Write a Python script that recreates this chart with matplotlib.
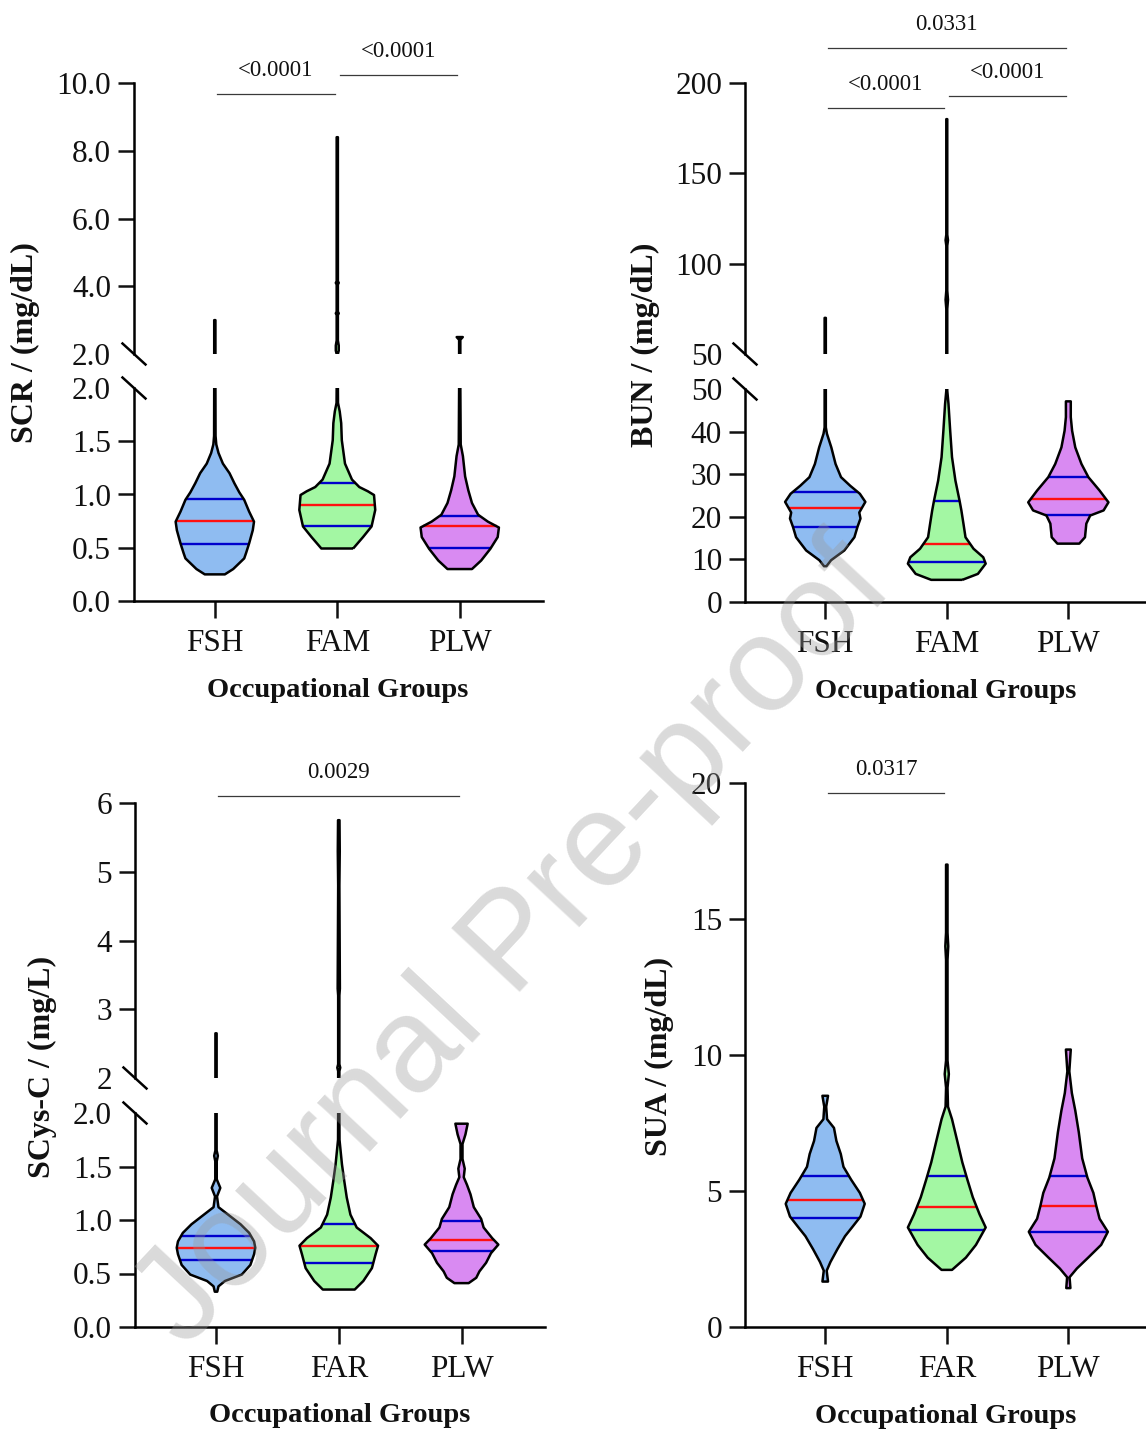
import numpy as np
import matplotlib
matplotlib.use("Agg")
import matplotlib.pyplot as plt

plt.rcParams["font.family"] = ["Liberation Serif", "DejaVu Serif"]

# ---------------- data ----------------
groups_top = ["FSH", "FAM", "PLW"]
groups_bottom = ["FSH", "FAR", "PLW"]
fill_colors = ["#8FBCF1", "#A3F7A3", "#D98AF2"]

# SCR (mg/dL): violin profiles (value, half-width in category units)
scr_fsh_y = [0.25, 0.30, 0.40, 0.45, 0.54, 0.665, 0.745, 0.84, 0.95, 1.02, 1.105, 1.20, 1.29, 1.39, 1.47, 1.55, 2.0, 3.0]
scr_fsh_w = [0.082, 0.15, 0.24, 0.255, 0.28, 0.31, 0.32, 0.28, 0.24, 0.20, 0.16, 0.12, 0.066, 0.03, 0.012, 0.006, 0.005, 0.005]
scr_fam_y = [0.493, 0.60, 0.70, 0.855, 0.995, 1.03, 1.07, 1.14, 1.29, 1.51, 1.67, 1.78, 1.86, 2.0, 2.1, 2.25, 2.4, 3.15, 3.2, 3.25, 4.05, 4.1, 4.15, 8.4]
scr_fam_w = [0.13, 0.21, 0.28, 0.31, 0.30, 0.25, 0.18, 0.12, 0.063, 0.037, 0.032, 0.02, 0.006, 0.005, 0.012, 0.012, 0.005, 0.005, 0.012, 0.005, 0.005, 0.012, 0.005, 0.005]
scr_plw_y = [0.30, 0.38, 0.49, 0.60, 0.69, 0.745, 0.81, 0.92, 1.04, 1.17, 1.36, 1.47, 2.0, 2.42, 2.5]
scr_plw_w = [0.10, 0.175, 0.25, 0.31, 0.32, 0.23, 0.15, 0.10, 0.07, 0.044, 0.026, 0.008, 0.005, 0.005, 0.025]
scr_q1 = [0.535, 0.70, 0.50]
scr_med = [0.75, 0.90, 0.70]
scr_q3 = [0.955, 1.105, 0.80]

# BUN (mg/dL)
bun_fsh_y = [8.4, 9.8, 12.1, 15.2, 17.6, 19.6, 21.0, 23.5, 25.4, 27.3, 29.3, 32.4, 36.3, 39.5, 41.0, 50.0, 70.0]
bun_fsh_w = [0.01, 0.048, 0.157, 0.24, 0.265, 0.29, 0.28, 0.33, 0.285, 0.205, 0.13, 0.085, 0.05, 0.014, 0.005, 0.005, 0.005]
bun_fam_y = [5.2, 6.6, 9.0, 10.5, 12.5, 15.2, 18.4, 21.5, 23.8, 28.5, 34.0, 40.2, 46.5, 49.6, 75.0, 80.0, 85.0, 110.0, 113.0, 116.0, 180.0]
bun_fam_w = [0.128, 0.256, 0.32, 0.30, 0.22, 0.154, 0.137, 0.12, 0.105, 0.071, 0.043, 0.028, 0.014, 0.004, 0.004, 0.01, 0.004, 0.004, 0.01, 0.004, 0.004]
bun_plw_y = [13.7, 15.2, 18.4, 20.3, 21.5, 23.4, 26.2, 29.3, 32.4, 36.3, 40.2, 43.4, 47.1]
bun_plw_w = [0.09, 0.137, 0.148, 0.18, 0.29, 0.33, 0.256, 0.165, 0.108, 0.057, 0.031, 0.02, 0.02]
bun_q1 = [17.6, 9.3, 20.4]
bun_med = [22.0, 13.6, 24.2]
bun_q3 = [25.9, 23.8, 29.3]

# SCys-C (mg/L)
scys_fsh_y = [0.33, 0.38, 0.43, 0.49, 0.58, 0.68, 0.74, 0.80, 0.88, 0.96, 1.04, 1.12, 1.22, 1.30, 1.38, 1.55, 1.60, 1.65, 2.0, 2.65]
scys_fsh_w = [0.01, 0.02, 0.073, 0.21, 0.28, 0.31, 0.32, 0.31, 0.27, 0.20, 0.11, 0.02, 0.008, 0.035, 0.006, 0.006, 0.015, 0.005, 0.005, 0.005]
scys_far_y = [0.35, 0.43, 0.55, 0.68, 0.76, 0.83, 0.93, 1.05, 1.21, 1.37, 1.52, 1.68, 1.75, 2.0, 2.1, 2.15, 2.2, 3.2, 3.3, 4.8, 5.3, 5.75]
scys_far_w = [0.13, 0.20, 0.27, 0.30, 0.32, 0.26, 0.146, 0.095, 0.065, 0.044, 0.026, 0.012, 0.006, 0.005, 0.005, 0.012, 0.005, 0.005, 0.009, 0.005, 0.008, 0.006]
scys_plw_y = [0.41, 0.46, 0.52, 0.60, 0.69, 0.77, 0.83, 0.93, 1.01, 1.12, 1.24, 1.33, 1.40, 1.48, 1.57, 1.71, 1.80, 1.90]
scys_plw_w = [0.058, 0.12, 0.146, 0.20, 0.24, 0.30, 0.25, 0.18, 0.16, 0.10, 0.073, 0.044, 0.018, 0.026, 0.008, 0.008, 0.032, 0.05]
scys_q1 = [0.63, 0.60, 0.71]
scys_med = [0.74, 0.76, 0.81]
scys_q3 = [0.85, 0.96, 0.99]

# SUA (mg/dL)
sua_fsh_y = [1.67, 2.07, 2.39, 2.86, 3.34, 3.66, 4.06, 4.53, 4.93, 5.41, 5.89, 6.36, 6.84, 7.32, 7.64, 8.1, 8.5]
sua_fsh_w = [0.023, 0.012, 0.043, 0.10, 0.163, 0.22, 0.29, 0.325, 0.285, 0.214, 0.15, 0.128, 0.092, 0.072, 0.015, 0.008, 0.023]
sua_far_y = [2.1, 2.55, 3.02, 3.66, 4.14, 4.77, 5.41, 6.05, 6.84, 7.64, 8.1, 8.8, 9.3, 9.8, 13.5, 14.0, 14.5, 17.0]
sua_far_w = [0.043, 0.157, 0.24, 0.32, 0.27, 0.214, 0.17, 0.128, 0.086, 0.043, 0.01, 0.006, 0.017, 0.006, 0.006, 0.012, 0.006, 0.006]
sua_plw_y = [1.43, 1.83, 2.15, 2.55, 3.02, 3.5, 3.98, 4.45, 4.93, 5.49, 6.2, 7.16, 7.96, 8.6, 9.4, 10.2]
sua_plw_w = [0.017, 0.01, 0.07, 0.163, 0.27, 0.325, 0.257, 0.23, 0.206, 0.157, 0.114, 0.086, 0.057, 0.029, 0.008, 0.02]
sua_q1 = [4.0, 3.57, 3.49]
sua_med = [4.67, 4.41, 4.45]
sua_q3 = [5.55, 5.55, 5.55]

# significance annotations: (group i, group j, bracket value, label)
scr_sig = [(0, 1, 9.68, "<0.0001"), (1, 2, 10.24, "<0.0001")]
bun_sig = [(0, 1, 186.2, "<0.0001"), (1, 2, 192.8, "<0.0001"), (0, 2, 219.4, "0.0331")]
scys_sig = [(0, 2, 6.10, "0.0029")]
sua_sig = [(0, 1, 19.63, "0.0317")]

# ---------------- figure ----------------
W, H = 1146, 1432
fig = plt.figure(figsize=(W / 100, H / 100), dpi=100)


def rect(l, t, r, b):
    return [l / W, 1 - b / H, (r - l) / W, (b - t) / H]


XLIM = (-0.66, 2.68)
TICK_FS = 22.5


def style(ax, bottom):
    for s in ("top", "right"):
        ax.spines[s].set_visible(False)
    ax.spines["left"].set_linewidth(1.8)
    ax.tick_params(axis="y", length=11.5, width=1.8, labelsize=TICK_FS, pad=5, colors="#111111")
    if bottom:
        ax.spines["bottom"].set_linewidth(1.8)
        ax.tick_params(axis="x", length=12, width=1.8, labelsize=TICK_FS, pad=8, colors="#111111")
    else:
        ax.spines["bottom"].set_visible(False)
        ax.tick_params(axis="x", bottom=False, labelbottom=False)
    ax.set_xlim(*XLIM)
    ax.patch.set_visible(False)


def violin(ax, x, y, w, color, q1, med, q3):
    y = np.asarray(y, float)
    w = np.asarray(w, float)
    ax.fill_betweenx(y, x - w, x + w, facecolor=color, edgecolor="none", zorder=2)
    for q, c in ((q1, "#0000CC"), (med, "#FF1010"), (q3, "#0000CC")):
        hw = np.interp(q, y, w)
        ax.plot([x - hw, x + hw], [q, q], color=c, lw=1.7, zorder=3, solid_capstyle="butt")
    ax.fill_betweenx(y, x - w, x + w, facecolor="none", edgecolor="black", linewidth=1.8,
                     joinstyle="round", zorder=4)


def break_mark(ax, at_top, wpx, hpx):
    dx = 11.5 / wpx
    dy = 10.5 / hpx
    yc = 1.0 if at_top else 0.0
    ax.plot([-dx, dx], [yc + dy, yc - dy], transform=ax.transAxes, color="black",
            lw=1.8, clip_on=False, zorder=5)


def sig(ax, items):
    for i, j, v, lab in items:
        ax.plot([i + 0.02, j - 0.02], [v, v], color="#3A3A3A", lw=0.9, clip_on=False)
        ax.annotate(lab, xy=((i + j) / 2, v), xytext=(0, 13), textcoords="offset points",
                    ha="center", va="baseline", fontsize=16.5, color="#111111",
                    annotation_clip=False)


def hide_tick(ax, value):
    for t, loc in zip(ax.yaxis.get_major_ticks(), ax.get_yticks()):
        if abs(loc - value) < 1e-9:
            t.tick1line.set_visible(False)


def broken_panel(l, r, t_top, b_top, t_bot, b_bot, lo_lim, hi_lim, lo_ticks, lo_labels,
                 hi_ticks, hi_labels, groups, profiles, q1, med, q3, sig_items):
    ax_hi = fig.add_axes(rect(l, t_top, r, b_top))
    ax_lo = fig.add_axes(rect(l, t_bot, r, b_bot))
    style(ax_hi, False)
    style(ax_lo, True)
    for ax in (ax_hi, ax_lo):
        for k, (yy, ww) in enumerate(profiles):
            violin(ax, k, yy, ww, fill_colors[k], q1[k], med[k], q3[k])
    ax_hi.set_ylim(*hi_lim)
    ax_lo.set_ylim(*lo_lim)
    ax_hi.set_yticks(hi_ticks)
    ax_hi.set_yticklabels(hi_labels)
    ax_lo.set_yticks(lo_ticks)
    ax_lo.set_yticklabels(lo_labels)
    ax_lo.set_xticks(range(len(groups)))
    ax_lo.set_xticklabels(groups)
    hide_tick(ax_hi, hi_lim[0])
    hide_tick(ax_lo, lo_lim[1])
    break_mark(ax_hi, False, r - l, b_top - t_top)
    break_mark(ax_lo, True, r - l, b_bot - t_bot)
    sig(ax_hi, sig_items)
    return ax_hi, ax_lo


# Panel A: SCR
broken_panel(134, 543, 83, 354, 388, 601, (0, 2.0), (2.0, 10.0),
             [0, 0.5, 1.0, 1.5, 2.0], ["0.0", "0.5", "1.0", "1.5", "2.0"],
             [2, 4, 6, 8, 10], ["2.0", "4.0", "6.0", "8.0", "10.0"],
             groups_top,
             [(scr_fsh_y, scr_fsh_w), (scr_fam_y, scr_fam_w), (scr_plw_y, scr_plw_w)],
             scr_q1, scr_med, scr_q3, scr_sig)

# Panel B: BUN
broken_panel(745, 1151, 83, 354, 389, 602, (0, 50), (50, 200),
             [0, 10, 20, 30, 40, 50], ["0", "10", "20", "30", "40", "50"],
             [50, 100, 150, 200], ["50", "100", "150", "200"],
             groups_top,
             [(bun_fsh_y, bun_fsh_w), (bun_fam_y, bun_fam_w), (bun_plw_y, bun_plw_w)],
             bun_q1, bun_med, bun_q3, bun_sig)

# Panel C: SCys-C
broken_panel(135, 545, 803, 1078, 1113, 1327, (0, 2.0), (2, 6),
             [0, 0.5, 1.0, 1.5, 2.0], ["0.0", "0.5", "1.0", "1.5", "2.0"],
             [2, 3, 4, 5, 6], ["2", "3", "4", "5", "6"],
             groups_bottom,
             [(scys_fsh_y, scys_fsh_w), (scys_far_y, scys_far_w), (scys_plw_y, scys_plw_w)],
             scys_q1, scys_med, scys_q3, scys_sig)

# Panel D: SUA (no break)
axD = fig.add_axes(rect(745, 783, 1151, 1327))
style(axD, True)
for k, (yy, ww) in enumerate([(sua_fsh_y, sua_fsh_w), (sua_far_y, sua_far_w), (sua_plw_y, sua_plw_w)]):
    violin(axD, k, yy, ww, fill_colors[k], sua_q1[k], sua_med[k], sua_q3[k])
axD.set_ylim(0, 20)
axD.set_yticks([0, 5, 10, 15, 20])
axD.set_yticklabels(["0", "5", "10", "15", "20"])
axD.set_xticks(range(3))
axD.set_xticklabels(groups_bottom)
sig(axD, sua_sig)

# axis titles
ylab_kw = dict(rotation=90, ha="center", va="center", fontsize=23, fontweight="bold", color="#111111")
xlab_kw = dict(ha="center", va="baseline", fontsize=20.5, fontweight="bold", color="#111111")
fig.text(25 / W, 1 - 343 / H, "SCR / (mg/dL)", **ylab_kw)
fig.text(645 / W, 1 - 345 / H, "BUN / (mg/dL)", **ylab_kw)
fig.text(42 / W, 1 - 1067 / H, "SCys-C / (mg/L)", **ylab_kw)
fig.text(659 / W, 1 - 1056 / H, "SUA / (mg/dL)", **ylab_kw)
fig.text(338 / W, 1 - 697 / H, "Occupational Groups", **xlab_kw)
fig.text(946 / W, 1 - 698 / H, "Occupational Groups", **xlab_kw)
fig.text(340 / W, 1 - 1422 / H, "Occupational Groups", **xlab_kw)
fig.text(946 / W, 1 - 1423 / H, "Occupational Groups", **xlab_kw)

# watermark
fig.text(515 / W, 1 - 945 / H, "Journal Pre-proof", rotation=47, ha="center", va="center",
         fontsize=97, color="0.6", alpha=0.36, family=["Liberation Sans", "DejaVu Sans"],
         zorder=10)

fig.savefig("out.png", dpi=100)
